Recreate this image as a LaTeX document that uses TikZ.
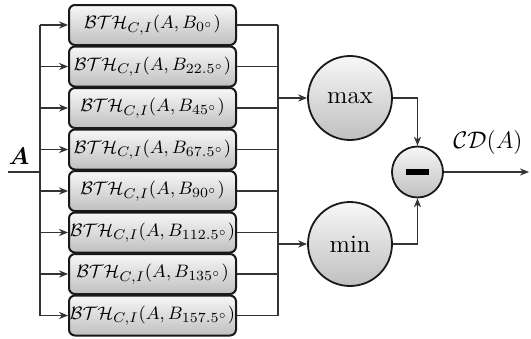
\documentclass[tikz,border=0pt]{standalone}
\usepackage{amsmath}
\usetikzlibrary{arrows.meta}
\begin{document}
\begin{tikzpicture}[x=0.5pt,y=-0.5pt,
  line/.style={draw=black!80,line width=0.55pt},
  arr/.style={line,-{Stealth[length=4.5pt,width=3.6pt]}},
  bth/.style={draw=black!90,line width=1pt,rounded corners=3pt,
    top color=gray!6,bottom color=gray!50,text width=83.5pt,align=center,minimum height=20pt,
    inner sep=0pt,font=\fontsize{9.3}{11}\selectfont},
  opc/.style={circle,draw=black!90,line width=0.9pt,top color=gray!6,bottom color=gray!50,
    minimum size=42pt,inner sep=0pt,font=\fontsize{12.5}{14}\selectfont},
  subc/.style={circle,draw=black!90,line width=0.9pt,top color=gray!6,bottom color=gray!50,
    minimum size=25.5pt,inner sep=0pt}]
\useasboundingbox (0,0) rectangle (531,338);
% boxes
\node[bth] (b1) at (152.5,25)    {$\mathcal{BTH}_{C,I}(A,B_{0^\circ})$};
\node[bth] (b2) at (152.5,66.5)  {$\mathcal{BTH}_{C,I}(A,B_{22.5^\circ})$};
\node[bth] (b3) at (152.5,108)   {$\mathcal{BTH}_{C,I}(A,B_{45^\circ})$};
\node[bth] (b4) at (152.5,149.5) {$\mathcal{BTH}_{C,I}(A,B_{67.5^\circ})$};
\node[bth] (b5) at (152.5,191)   {$\mathcal{BTH}_{C,I}(A,B_{90^\circ})$};
\node[bth] (b6) at (152.5,232.5) {$\mathcal{BTH}_{C,I}(A,B_{112.5^\circ})$};
\node[bth] (b7) at (152.5,274)   {$\mathcal{BTH}_{C,I}(A,B_{135^\circ})$};
\node[bth] (b8) at (152.5,315.5) {$\mathcal{BTH}_{C,I}(A,B_{157.5^\circ})$};
% operators
\node[opc] (mx) at (350,98) {max};
\node[opc] (mn) at (350,244) {min};
\node[subc] (sb) at (417.5,172) {};
\fill[black] ([xshift=-5.8pt,yshift=-1.6pt]sb.center) rectangle ([xshift=5.8pt,yshift=1.6pt]sb.center);
% coordinates
\coordinate (in) at (8,172);
\coordinate (lb) at (40,172);
\coordinate (lt) at (40,25);
\coordinate (lbot) at (40,315.5);
\coordinate (rt) at (278,25);
\coordinate (rb) at (278,315.5);
\coordinate (out) at (529,172);
% labels
\node[font=\fontsize{12}{14}\selectfont] (alab) at (19,156) {$\boldsymbol{A}$};
\node[font=\fontsize{12.5}{14}\selectfont] (cdlab) at (488,142) {$\mathcal{CD}(A)$};
% input bus
\draw[line] (in) -- (lb);
\draw[line] (lt) -- (lbot);
\foreach \i in {1,...,8}{
  \draw[arr] (b\i.west -| lt) -- (b\i.west);
  \draw[line] (b\i.east) -- (b\i.east -| rt);
}
\draw[line] (rt) -- (rb);
\draw[arr] (mx.west -| rt) -- (mx.west);
\draw[arr] (mn.west -| rt) -- (mn.west);
\draw[arr] (mx.east) -| (sb.north);
\draw[arr] (mn.east) -| (sb.south);
\draw[arr] (sb.east) -- (out);
\end{tikzpicture}
\end{document}
